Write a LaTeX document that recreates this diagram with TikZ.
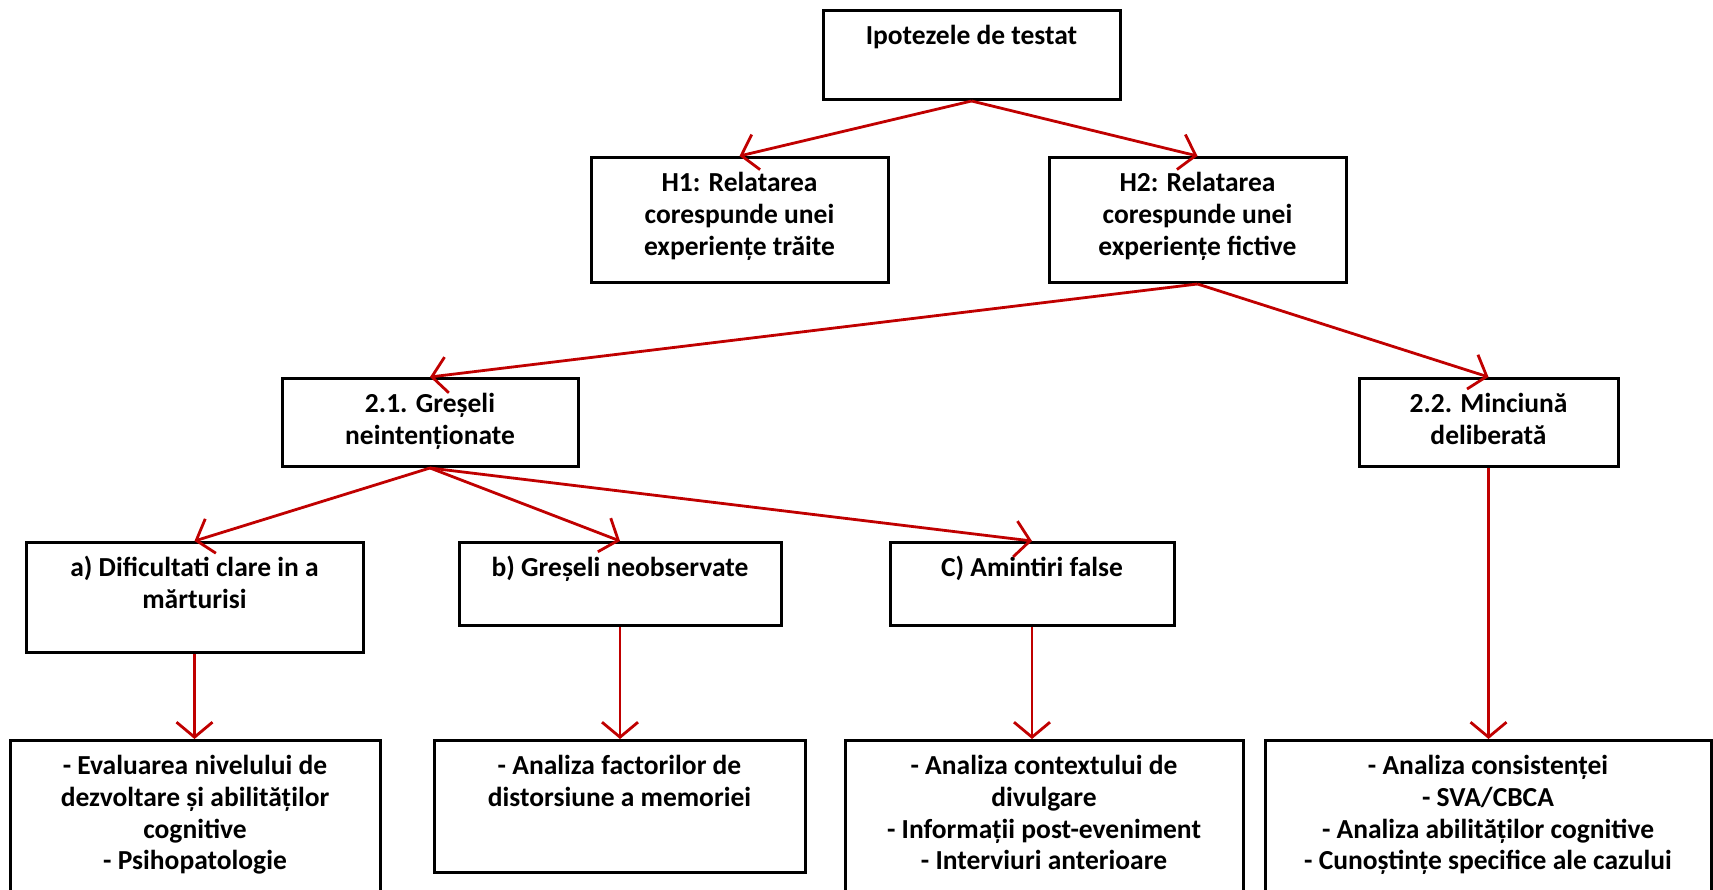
\documentclass[tikz,border=0pt]{standalone}
\usepackage{fontspec}
\setmainfont{Carlito}
\usepackage{tikz}
\usetikzlibrary{arrows.meta}
\definecolor{arrowred}{RGB}{192, 0, 0}

\tikzset{
  box/.style 2 args={draw=black, line width=3pt, inner xsep=0pt, inner ysep=12pt, anchor=north,
    font=\fontsize{27.5}{31.7}\selectfont\bfseries,
    execute at begin node={\begin{minipage}[t][#2][t]{#1}\centering\strut},
    execute at end node={\end{minipage}}},
  link/.style={draw=arrowred, line width=2.8pt, -{Straight Barb[length=15pt, width=36pt]}}
}

\begin{document}
\begin{tikzpicture}[x=1pt, y=-1pt]
        \useasboundingbox (0,0) rectangle (1713,890);

        % nivelul 1 si 2
        \node[box={297pt}{65pt}] (top) at (971.5,9) {Ipotezele de testat};
        \node[box={297pt}{101pt}] (h1) at (739.5,156) {H1: Relatarea\\corespunde unei\\experiențe trăite};
        \node[box={297pt}{101pt}] (h2) at (1197.5,156) {H2: Relatarea\\corespunde unei\\experiențe fictive};

        % nivelul 3
        \node[box={296pt}{64pt}] (gres) at (430,377) {2.1. Greșeli\\neintenționate};
        \node[box={259pt}{64pt}] (minc) at (1488.5,377) {2.2. Minciună\\deliberată};

        % cazurile a), b), C)
        \node[box={337pt}{86pt}] (dific) at (194.5,541) {a) Dificultati clare in a\\mărturisi};
        \node[box={322pt}{59pt}] (neobs) at (620,541) {b) Greșeli neobservate};
        \node[box={284pt}{59pt}] (amint) at (1032,541) {C) Amintiri false};

        % analize
        \node[box={370pt}{146pt}] (evalA) at (195,739) {- Evaluarea nivelului de\\dezvoltare și abilităților\\cognitive\\- Psihopatologie};
        \node[box={371pt}{108pt}] (evalB) at (619.5,739) {- Analiza factorilor de\\distorsiune a memoriei};
        \node[box={398pt}{146pt}] (evalC) at (1044,739) {- Analiza contextului de\\divulgare\\- Informații post-eveniment\\- Interviuri anterioare};
        \node[box={446pt}{146pt}] (evalD) at (1488,739) {- Analiza consistenței\\- SVA/CBCA\\- Analiza abilităților cognitive\\- Cunoștințe specifice ale cazului};

        % sageti
        \draw[link] (top.south) -- (h1.north);
        \draw[link] (top.south) -- (h2.north);
        \draw[link] (h2.south) -- (gres.north);
        \draw[link] (h2.south) -- (minc.north);
        \draw[link] (gres.south) -- (dific.north);
        \draw[link] (gres.south) -- (neobs.north);
        \draw[link] (gres.south) -- (amint.north);
        \draw[link] (dific.south) -- (dific.south |- evalA.north);
        \draw[link] (neobs.south) -- (neobs.south |- evalB.north);
        \draw[link] (amint.south) -- (amint.south |- evalC.north);
        \draw[link] (minc.south) -- (minc.south |- evalD.north);
    \end{tikzpicture}
\end{document}
